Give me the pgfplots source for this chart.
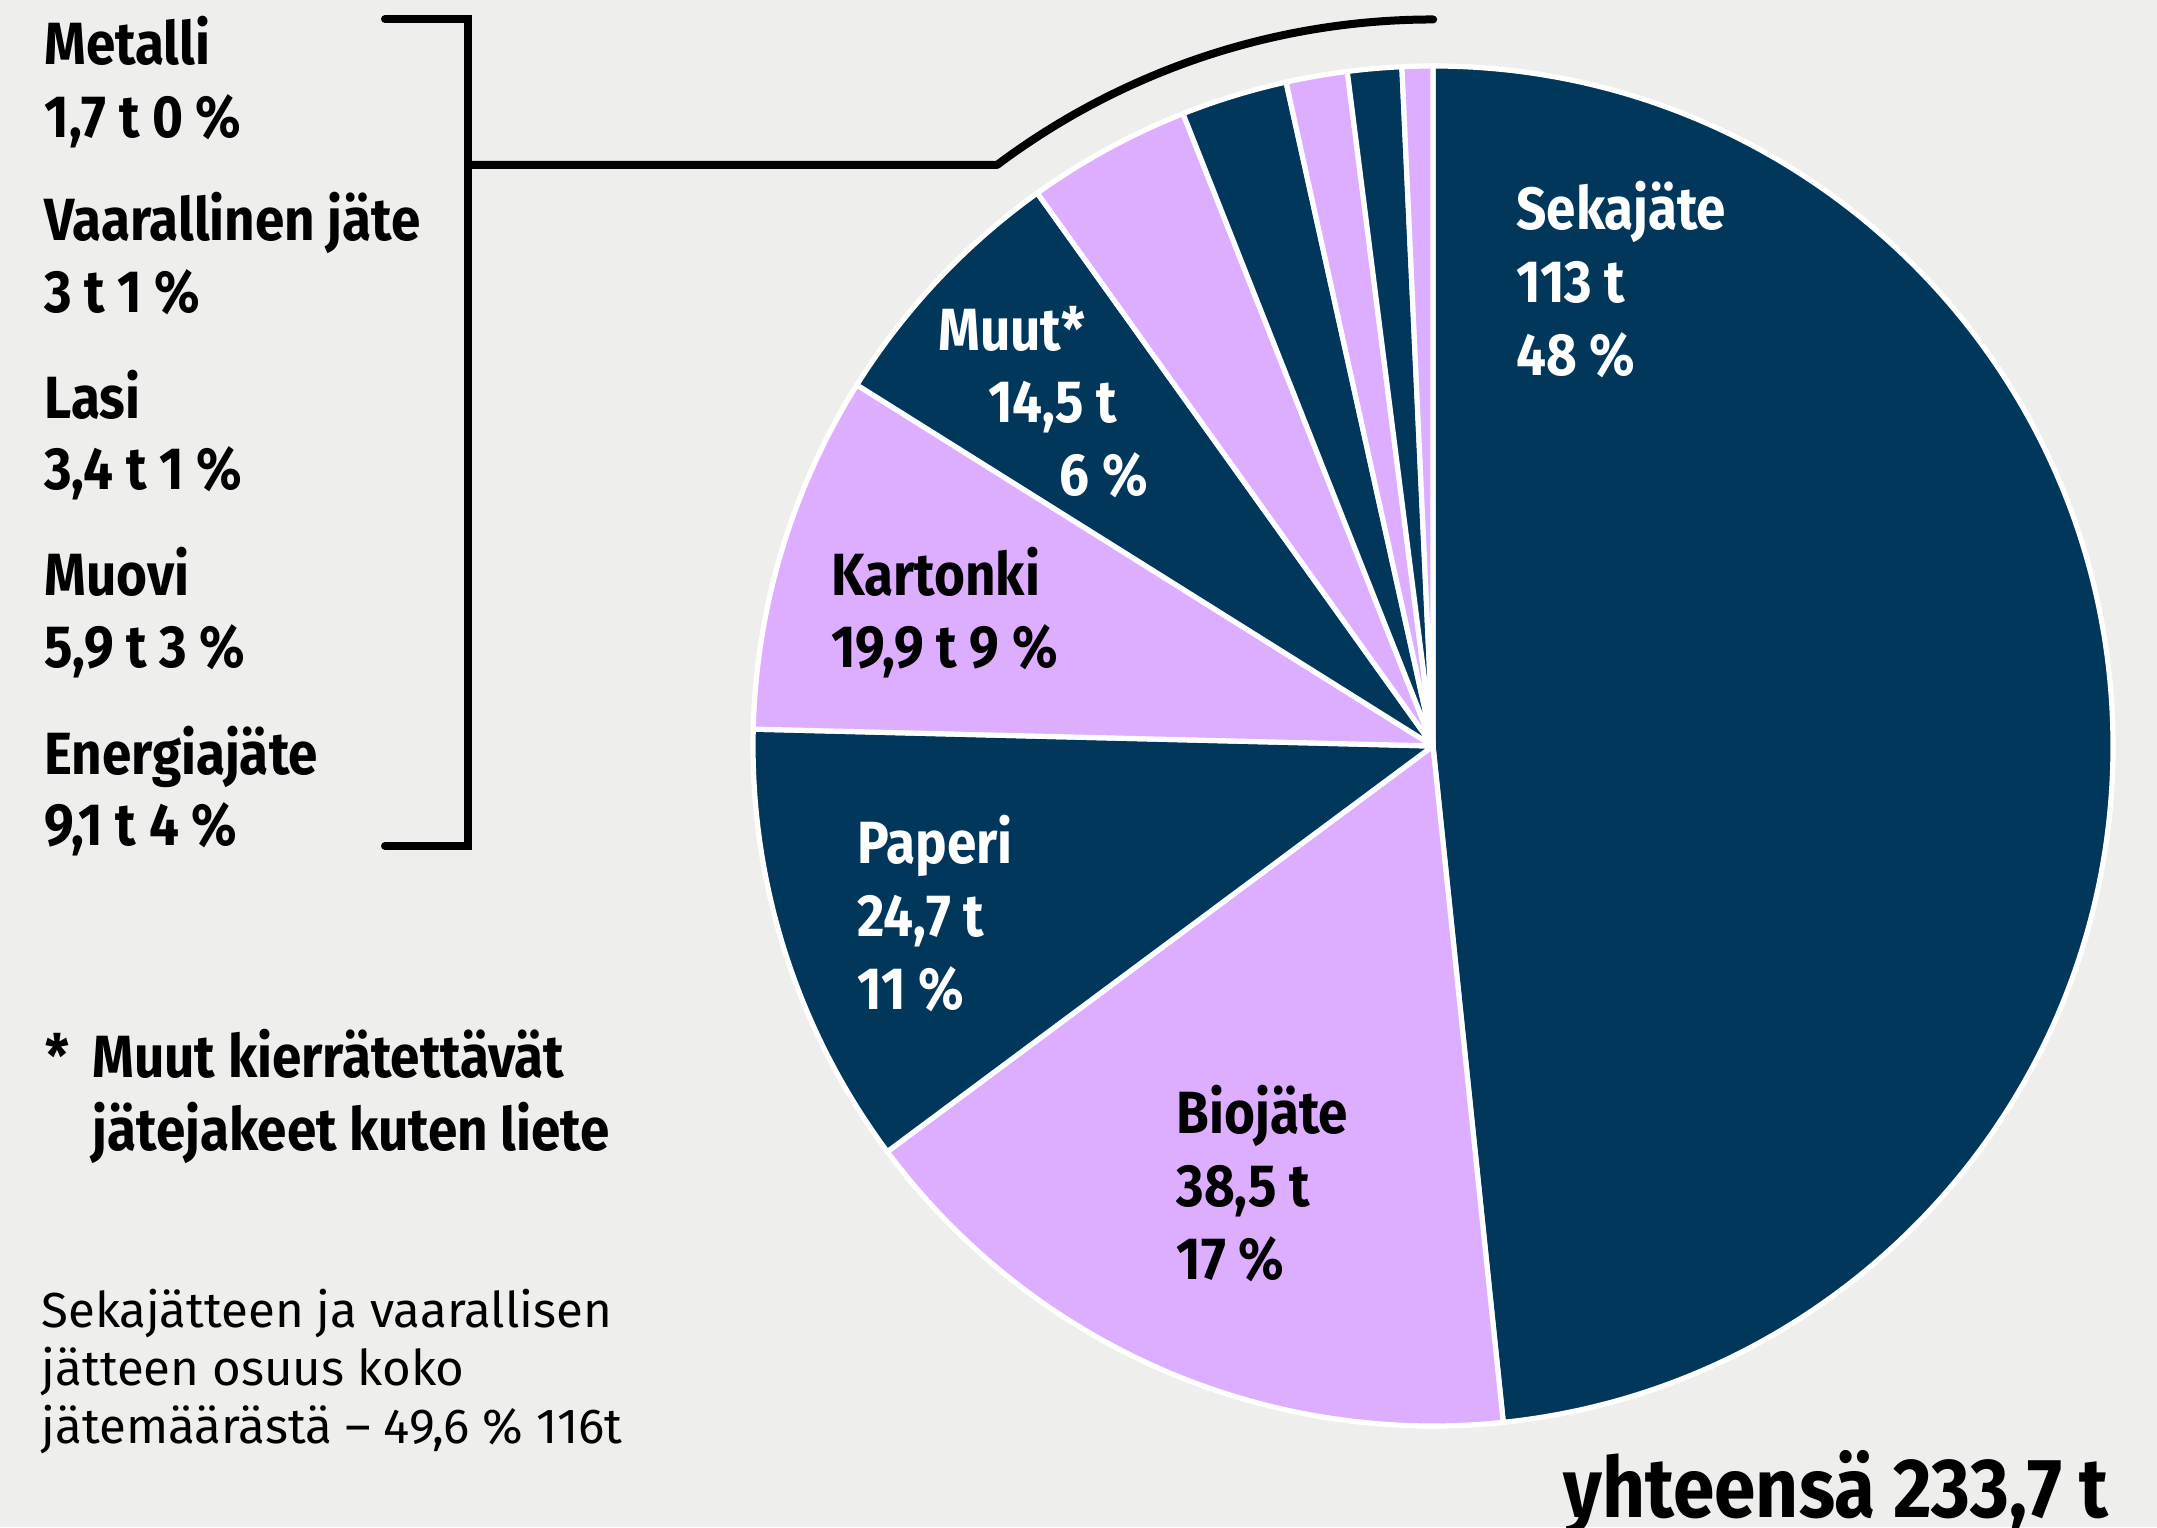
\documentclass[border=0pt]{standalone}
\usepackage{pgfplots}
\pgfplotsset{compat=1.18}
\usepackage{fontspec}
\setmainfont{Fira Sans}
\newfontfamily\labfont[FakeStretch=0.89]{Fira Sans}
\newfontfamily\notefont{Fira Sans}
\definecolor{navy}{HTML}{00375A}
\definecolor{lav}{HTML}{DDAEFF}
\definecolor{bg}{HTML}{EEEEEC}

% slice values (t), clockwise from 12 o'clock
\def\tot{233.7}
\pgfmathsetmacro\aA{90}
\pgfmathsetmacro\aB{\aA-113/\tot*360}
\pgfmathsetmacro\aC{\aB-38.5/\tot*360}
\pgfmathsetmacro\aD{\aC-24.7/\tot*360}
\pgfmathsetmacro\aE{\aD-19.9/\tot*360}
\pgfmathsetmacro\aF{\aE-14.5/\tot*360}
\pgfmathsetmacro\aG{\aF-9.1/\tot*360}
\pgfmathsetmacro\aH{\aG-5.9/\tot*360}
\pgfmathsetmacro\aI{\aH-3.4/\tot*360}
\pgfmathsetmacro\aJ{\aI-3/\tot*360}
\pgfmathsetmacro\aK{\aJ-1.7/\tot*360}

\newcommand\slice[3]{%
  \fill[#3, draw=white, line width=2.6pt, line join=round]
    (axis cs:1433,781) -- ++(#1:340pt) arc[start angle=#1, end angle=#2, radius=340pt] -- cycle;}
\newcommand\blab[4]{\node[anchor=base west, inner sep=0pt, text=#4, font=\labfont\bfseries\fontsize{29.8pt}{30pt}\selectfont] at (axis cs:#1,#2) {#3};}

\begin{document}
\begin{tikzpicture}
\begin{axis}[hide axis, scale only axis, width=1078.5pt, height=763.5pt,
  xmin=0, xmax=2157, ymin=0, ymax=1527, clip=false]
\fill[bg] (axis cs:0,0) rectangle (axis cs:2157,1527);
\slice{\aA}{\aB}{navy}
\slice{\aB}{\aC}{lav}
\slice{\aC}{\aD}{navy}
\slice{\aD}{\aE}{lav}
\slice{\aE}{\aF}{navy}
\slice{\aF}{\aG}{lav}
\slice{\aG}{\aH}{navy}
\slice{\aH}{\aI}{lav}
\slice{\aI}{\aJ}{navy}
\slice{\aJ}{\aK}{lav}
% bracket and connector
\draw[black, line width=4pt, line cap=round, line join=miter]
  (axis cs:385,1508) -- (axis cs:468,1508) -- (axis cs:468,681) -- (axis cs:385,681);
\draw[black, line width=4pt, line cap=round, line join=round]
  (axis cs:468,1362) -- (axis cs:997,1362) arc[start angle=126.9, end angle=90, radius=363.2pt];
% left list
\blab{44}{1462.3}{Metalli}{black}
\blab{44}{1389.4}{1,7 t 0 \%}{black}
\blab{44}{1286.3}{Vaarallinen jäte}{black}
\blab{44}{1214.7}{3 t 1 \%}{black}
\blab{44}{1108.8}{Lasi}{black}
\blab{44}{1037.3}{3,4 t 1 \%}{black}
\blab{44}{931.4}{Muovi}{black}
\blab{44}{859.8}{5,9 t 3 \%}{black}
\blab{44}{752.5}{Energiajäte}{black}
\blab{44}{681}{9,1 t 4 \%}{black}
% pie labels
\blab{1516}{1297.3}{Sekajäte}{white}
\blab{1516}{1224.4}{113 t}{white}
\blab{1516}{1151.5}{48 \%}{white}
\blab{938.2}{1176.2}{Muut*}{white}
\blab{987.7}{1104.7}{14,5 t}{white}
\blab{1059.2}{1031.8}{6 \%}{white}
\blab{830.9}{931.4}{Kartonki}{black}
\blab{830.9}{859.8}{19,9 t 9 \%}{black}
\blab{857}{663.1}{Paperi}{white}
\blab{857}{590.2}{24,7 t}{white}
\blab{857}{517.3}{11 \%}{white}
\blab{1176.1}{393.5}{Biojäte}{black}
\blab{1176.1}{320.6}{38,5 t}{black}
\blab{1176.1}{247.7}{17 \%}{black}
% footnote
\blab{45.4}{449.9}{*}{black}
\blab{92.2}{449.9}{Muut kierrätettävät}{black}
\blab{92.2}{377}{jätejakeet kuten liete}{black}
% note
\node[anchor=base west, inner sep=0pt, font=\notefont\fontsize{24.6pt}{25pt}\selectfont] at (axis cs:41.3,199.5) {Sekajätteen ja vaarallisen};
\node[anchor=base west, inner sep=0pt, font=\notefont\fontsize{24.6pt}{25pt}\selectfont] at (axis cs:41.3,141.7) {jätteen osuus koko};
\node[anchor=base west, inner sep=0pt, font=\notefont\fontsize{24.6pt}{25pt}\selectfont] at (axis cs:41.3,84) {jätemäärästä – 49,6 \% 116t};
% total
\node[anchor=base east, inner sep=0pt, font=\labfont\bfseries\fontsize{42pt}{43pt}\selectfont] at (axis cs:2109,10) {yhteensä 233,7 t};
\end{axis}
\pgfresetboundingbox
\path (0,0) rectangle (1078.5pt,763.5pt);
\end{tikzpicture}
\end{document}
